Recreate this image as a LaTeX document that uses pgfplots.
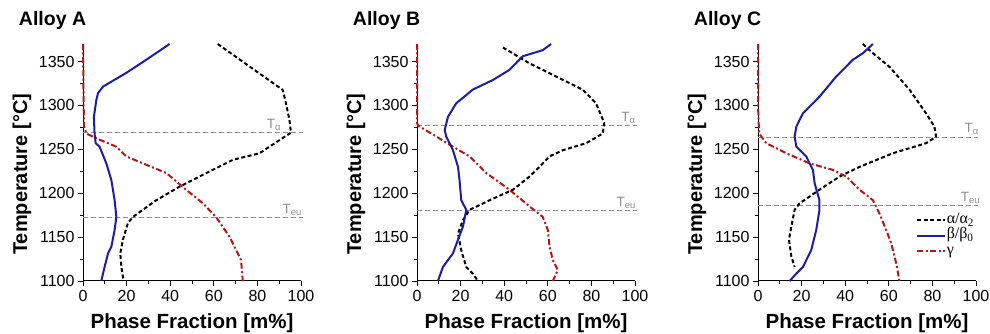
\documentclass[border=0pt]{standalone}
\usepackage{fontspec}
\setmainfont{Liberation Sans}
\newfontfamily\seriffont{Liberation Serif}
\usepackage{pgfplots}
\pgfplotsset{compat=1.18}
\definecolor{cblue}{RGB}{25,30,165}
\definecolor{cred}{RGB}{185,20,20}
\definecolor{cgray}{RGB}{140,140,140}
\newcommand{\Tlab}[1]{T\textsubscript{#1}}
\tikzset{tlab/.style={cgray, anchor=base, font=\fontsize{13.5}{13.5}\selectfont}}
\pgfplotsset{
  myax/.style={
    scale only axis, width=218pt, height=237pt,
    xmin=0, xmax=100, ymin=1100, ymax=1370,
    axis x line*=bottom, axis y line*=left,
    axis line style={-, line width=1pt},
    xtick={0,20,...,100}, minor x tick num=1,
    ytick={1100,1150,...,1350}, minor y tick num=1,
    tick align=outside, major tick length=5pt, minor tick length=3pt,
    tick style={line width=0.9pt, black},
    ticklabel style={font=\fontsize{16}{16}\selectfont},
    /pgf/number format/assume math mode=true,
    /pgf/number format/1000 sep={},
    xticklabel style={yshift=-1pt},
    clip=false,
    title style={at={(axis description cs:-0.31,1)}, anchor=base west, yshift=12pt, font=\fontsize{19.5}{19.5}\selectfont\bfseries},
    xlabel={Phase Fraction [m\%]},
    ylabel={Temperature [°C]},
    xlabel style={at={(axis description cs:0.5,-0.18)}, anchor=center, font=\fontsize{20.5}{20.5}\selectfont\bfseries},
    ylabel style={at={(axis description cs:-0.28,0.45)}, anchor=center, font=\fontsize{20}{20}\selectfont\bfseries},
  },
  alpha/.style={black, line width=2pt, dash pattern=on 4pt off 2.5pt},
  beta/.style={cblue, line width=2pt},
  gam/.style={cred, line width=2pt, dash pattern=on 6pt off 2.5pt on 2pt off 2.5pt},
  tline/.style={cgray, line width=1pt, dash pattern=on 5pt off 3pt},
}
\begin{document}
\begin{tikzpicture}
\path[use as bounding box] (0,0) rectangle (990pt,334pt);
% ---------------- Alloy A
\begin{axis}[myax, at={(83pt,53pt)}, anchor=south west, title={Alloy A}]
\addplot[tline] coordinates {(0,1269) (101,1269)};
\addplot[tline] coordinates {(0,1172.5) (101,1172.5)};
\node[tlab] at (axis cs:87.6,1274) {\Tlab{α}};
\node[tlab] at (axis cs:96,1177) {\Tlab{eu}};
\addplot[gam] coordinates {(0,1370) (0.3,1300) (0.5,1276) (1.5,1268) (7.6,1261) (15.3,1253) (19.8,1242) (27.5,1234) (38.2,1223) (47.3,1204) (55,1188.5) (61,1173) (67.2,1150.5) (72.5,1124) (73.3,1100)};
\addplot[alpha] coordinates {(61.8,1370) (91.6,1317.7) (92.8,1306) (94.7,1283.5) (95.4,1269) (80.9,1245.5) (68.7,1238) (53.4,1219) (44.3,1207.5) (33.6,1192) (22.9,1173) (20.6,1166) (18.3,1147) (17.1,1131.5) (17.6,1116) (18.6,1100)};
\addplot[beta] coordinates {(39.7,1370) (29,1352) (19.8,1337) (9.2,1321.5) (6.9,1314) (6.1,1306) (5.0,1287) (5.3,1268) (5.8,1257) (7.6,1253) (10.7,1234) (13,1215) (14.5,1192) (15.3,1173) (14.5,1158) (13,1139) (11.5,1131.5) (9.9,1116) (8.4,1100)};
\end{axis}
% ---------------- Alloy B
\begin{axis}[myax, at={(417pt,53pt)}, anchor=south west, title={Alloy B}]
\addplot[tline] coordinates {(0,1277) (101,1277)};
\addplot[tline] coordinates {(0,1180) (101,1180)};
\node[tlab] at (axis cs:97,1282) {\Tlab{α}};
\node[tlab] at (axis cs:96,1185) {\Tlab{eu}};
\addplot[gam] coordinates {(0,1370) (0,1300) (0,1280) (0.5,1277) (8.9,1264.5) (16.5,1253) (24.1,1242) (31.8,1223) (42.4,1204) (51.6,1185) (57.7,1173) (60,1158) (60.8,1139) (62.3,1124) (64.6,1112.5) (62.3,1100)};
\addplot[alpha] coordinates {(39.4,1366) (51.6,1348) (63.8,1333) (76,1318) (82.1,1302.5) (85.9,1280) (85.2,1268) (77.6,1257) (66.9,1249) (60.8,1242) (56.2,1230) (51.6,1219) (44,1204) (33.3,1192) (24.1,1181) (21.1,1169.5) (18.8,1154) (20.3,1135) (22.6,1116) (25.6,1108.5) (27.9,1100)};
\addplot[beta] coordinates {(61.5,1370) (57.7,1363) (48.5,1356) (42.4,1340.5) (34.8,1329) (25.6,1318) (18,1302.5) (14.2,1287) (12.7,1272) (13.4,1264.5) (16.5,1249) (18.8,1230) (19.5,1215) (20.3,1192) (22.6,1181) (21.1,1162) (18.8,1147) (16.5,1131.5) (11.9,1116) (9.6,1100)};
\end{axis}
% ---------------- Alloy C
\begin{axis}[myax, at={(758pt,53pt)}, anchor=south west, title={Alloy C},
  legend style={at={(axis description cs:0.725,0.29)}, anchor=north west, draw=none, fill=none,
    font=\seriffont\fontsize{16}{16}\selectfont, row sep=0pt, inner sep=0pt,
    nodes={inner sep=0.5pt, text height=10.5pt, text depth=4pt}},
  legend cell align=left,
  legend image code/.code={\draw[#1] (0pt,0pt) -- (28pt,0pt);}]
\addplot[tline, forget plot] coordinates {(0,1264) (101,1264)};
\addplot[tline, forget plot] coordinates {(0,1186) (101,1186)};
\node[tlab] at (axis cs:98,1269) {\Tlab{α}};
\node[tlab] at (axis cs:97.5,1191) {\Tlab{eu}};
\addplot[alpha] coordinates {(48.1,1370) (52.7,1359.5) (60.3,1344) (69.5,1318) (77.1,1291) (80.9,1276) (81.7,1264.5) (77.1,1257) (61.8,1245.5) (46.6,1230) (37.4,1219) (28.2,1204) (19.1,1188.5) (16.8,1181) (15.3,1162) (14.2,1147) (15.3,1128) (16.8,1116)};
\addlegendentry{α/α\textsubscript{2}}
\addplot[beta] coordinates {(52.7,1370) (48.1,1359.5) (43.5,1352) (35.9,1333) (28.2,1310) (20.6,1291) (17.6,1276) (16.8,1264.5) (17.6,1253) (22.1,1242) (25.2,1226.5) (26,1211) (28.2,1192) (28.2,1181) (26.7,1158) (24.4,1135) (20.6,1116) (17.6,1108.5) (14.5,1100)};
\addlegendentry{β/β\textsubscript{0}}
\addplot[gam] coordinates {(0,1370) (0,1300) (0.5,1268) (3.8,1257) (13,1245.5) (23.7,1234) (34.4,1226.5) (40.5,1219) (46.6,1204) (52.7,1192) (55.7,1177) (58.8,1158) (61.1,1143) (63.4,1120) (64.9,1100)};
\addlegendentry{γ}
\end{axis}
\end{tikzpicture}
\end{document}
